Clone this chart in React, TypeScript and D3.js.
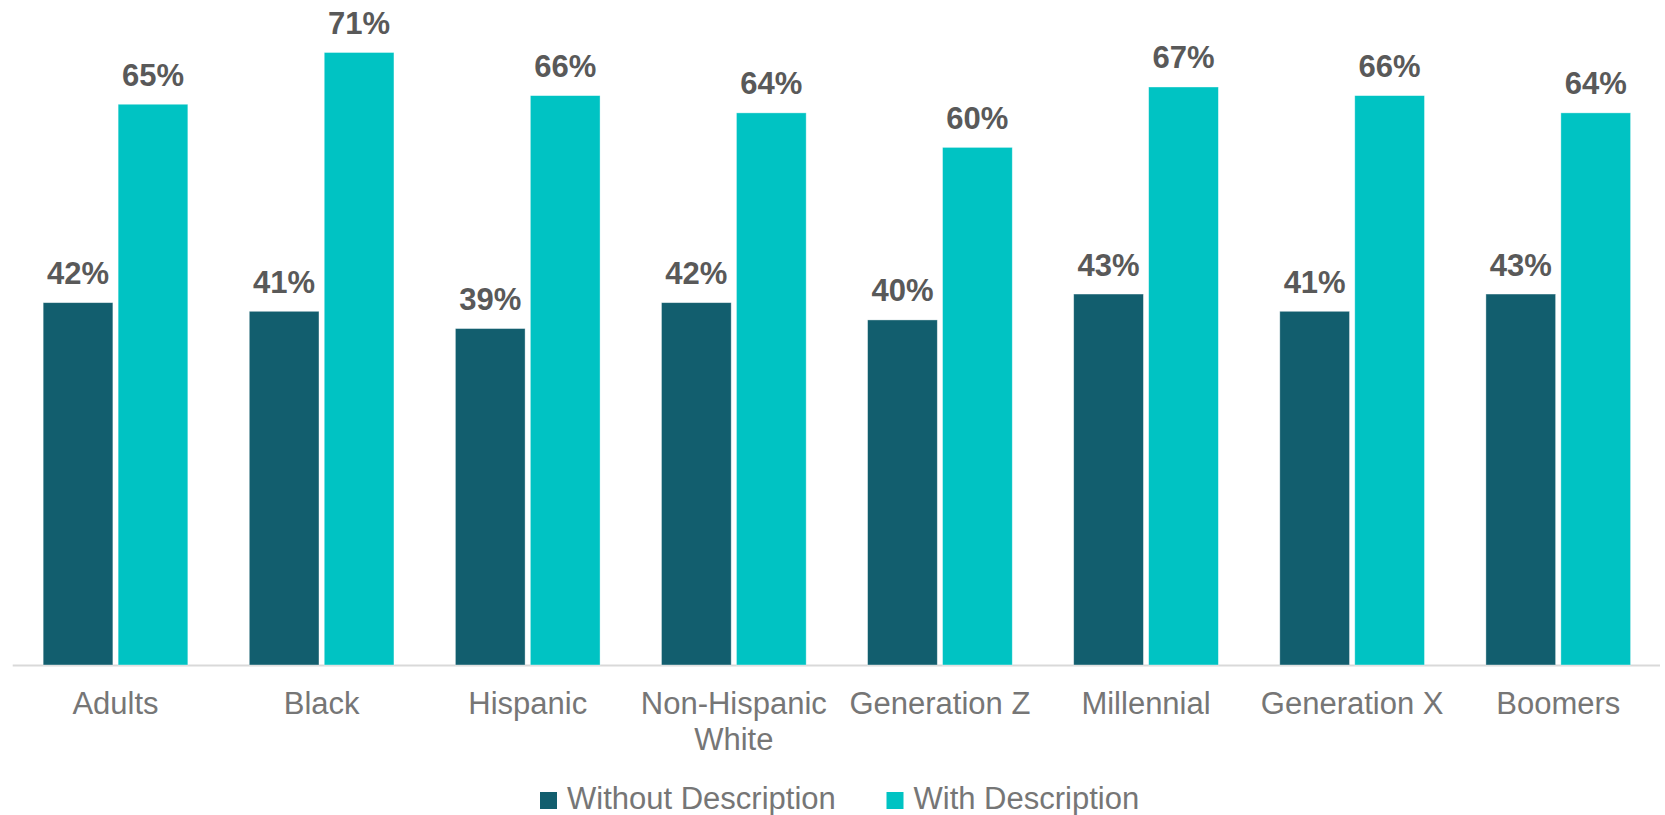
import React, { useMemo } from "react";
import * as d3 from "d3";

const categories = ["Adults", "Black", "Hispanic", "Non-Hispanic White", "Generation Z", "Millennial", "Generation X", "Boomers"];
const seriesNames = ["Without Description", "With Description"];
const withoutDescription = [42, 41, 39, 42, 40, 43, 41, 43];
const withDescription = [65, 71, 66, 64, 60, 67, 66, 64];
const seriesColors = ["#125E6E", "#00C3C3"];

const W = 1665;
const H = 815;
const FONT = "Arial, 'Liberation Sans', sans-serif";
const baseline = 665;
const pxPerPct = 8.627;

function wrapText(text: string, maxWidth: number, font: string): string[] {
  const canvas = document.createElement("canvas");
  const ctx = canvas.getContext("2d");
  if (!ctx) return [text];
  ctx.font = font;
  const words = text.split(" ");
  const lines: string[] = [];
  let cur = "";
  for (const w of words) {
    const test = cur ? cur + " " + w : w;
    if (cur && ctx.measureText(test).width > maxWidth) {
      lines.push(cur);
      cur = w;
    } else cur = test;
  }
  if (cur) lines.push(cur);
  return lines;
}

export default function App() {
  const x0 = d3.scaleBand<string>().domain(categories).range([12.45, 1661.3]).paddingInner(0).paddingOuter(0);
  const groupWidth = x0.bandwidth() * 0.702;
  const x1 = d3.scaleBand<string>().domain(seriesNames).range([0, groupWidth]).paddingInner(0.07);
  const y = d3.scaleLinear().domain([0, 100]).range([baseline, baseline - 100 * pxPerPct]);
  const seriesValues = [withoutDescription, withDescription];

  const wrapped = useMemo(
    () => categories.map((c) => wrapText(c, x0.bandwidth() - 6, `31px ${FONT}`)),
    []
  );

  const legendItems = [
    { name: seriesNames[0], color: seriesColors[0], x: 540 },
    { name: seriesNames[1], color: seriesColors[1], x: 886.5 },
  ];

  return (
    <svg
      width={W}
      height={H}
      style={{ position: "absolute", left: 0, top: 0, background: "#fff" }}
      fontFamily={FONT}
    >
      <line x1={12.7} x2={1660} y1={baseline + 0.5} y2={baseline + 0.5} stroke="#D9D9D9" strokeWidth={2} />
      {categories.map((c, i) => {
        const gx = (x0(c) as number) + (x0.bandwidth() - groupWidth) / 2;
        return (
          <g key={c} transform={`translate(${gx},0)`}>
            {seriesNames.map((s, j) => {
              const v = seriesValues[j][i];
              const bx = x1(s) as number;
              return (
                <g key={s}>
                  <rect
                    x={bx}
                    y={y(v)}
                    width={x1.bandwidth()}
                    height={baseline - y(v)}
                    fill={seriesColors[j]}
                    stroke="#ffffff"
                    strokeOpacity={0.5}
                    strokeWidth={0.75}
                  />
                  <text
                    x={bx + x1.bandwidth() / 2}
                    y={y(v) - 18.5}
                    textAnchor="middle"
                    fontSize={31}
                    fontWeight="bold"
                    fill="#595959"
                  >
                    {v}%
                  </text>
                </g>
              );
            })}
          </g>
        );
      })}
      {categories.map((c, i) => {
        const cx = (x0(c) as number) + x0.bandwidth() / 2;
        return (
          <text key={c} x={cx} y={713.5} textAnchor="middle" fontSize={31} fill="#767676">
            {wrapped[i].map((line, k) => (
              <tspan key={k} x={cx} dy={k === 0 ? 0 : 36.5}>
                {line}
              </tspan>
            ))}
          </text>
        );
      })}
      {legendItems.map((it) => (
        <g key={it.name}>
          <rect x={it.x} y={792} width={17} height={17} fill={it.color} />
          <text x={it.x + 27} y={809} fontSize={31} fill="#767676">
            {it.name}
          </text>
        </g>
      ))}
    </svg>
  );
}
